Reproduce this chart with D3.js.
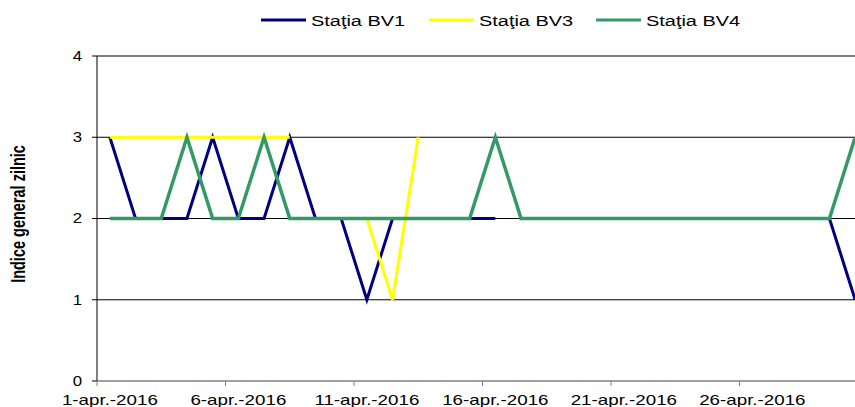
<!DOCTYPE html>
<html><head><meta charset="utf-8">
<script src="https://cdn.jsdelivr.net/npm/d3@7"></script>
<style>body{margin:0;background:#fff}svg{display:block}text{font-family:"Liberation Sans",Arial,sans-serif}</style>
</head><body><svg id="c" width="855" height="407"></svg>
<script>
const days = d3.range(1, 31);
const tickDays = [1, 6, 11, 16, 21, 26];
const tickLabels = ["1-apr.-2016","6-apr.-2016","11-apr.-2016","16-apr.-2016","21-apr.-2016","26-apr.-2016"];
const yTicks = [0, 1, 2, 3, 4];
const seriesNames = ["Staţia BV1", "Staţia BV3", "Staţia BV4"];
const seriesColors = ["#000080", "#FFFF00", "#339966"];
const bv1 = [3,2,2,2,3,2,2,3,2,2,1,2,2,2,2,2,null,2,2,2,2,2,2,2,2,2,2,2,2,1];
const bv3 = [3,3,3,3,3,3,3,3,null,2,2,1,3,null,null,null,null,null,null,null,null,null,null,null,null,null,null,null,null,null];
const bv4 = [2,2,2,3,2,2,3,2,2,2,2,2,2,2,2,3,2,2,2,2,2,2,2,2,2,2,2,2,2,3];
const seriesData = [bv1, bv3, bv4];
const lineWidths = [3, 3, 3.5];

const svg = d3.select("#c");
const x = d3.scaleBand().domain(days).range([97, 97 + 30 * 25.7]).padding(0);
const y = d3.scaleLinear().domain([0, 4]).range([381, 56]);
const cx = d => x(d) + x.bandwidth() / 2;

// gridlines
svg.append("g").selectAll("line").data(yTicks.filter(v => v > 0)).join("line")
  .attr("x1", 97).attr("x2", 855).attr("y1", d => y(d)).attr("y2", d => y(d))
  .attr("stroke", "#000").attr("stroke-width", 1);

// y axis
const ya = svg.append("g");
ya.append("line").attr("x1", 97).attr("x2", 97).attr("y1", y(4)).attr("y2", y(0)).attr("stroke", "#000");
ya.selectAll("line.t").data(yTicks).join("line").attr("class","t")
  .attr("x1", 92).attr("x2", 97).attr("y1", d => y(d)).attr("y2", d => y(d)).attr("stroke", "#000");
ya.selectAll("text").data(yTicks).join("text")
  .attr("transform", d => `translate(82,${y(d)}) scale(1.2,1)`)
  .attr("text-anchor", "end").attr("dy", "0.35em").attr("font-size", 14).attr("fill", "#000")
  .text(d => d);

// x axis
const xa = svg.append("g");
xa.append("line").attr("x1", 97).attr("x2", 855).attr("y1", y(0)).attr("y2", y(0)).attr("stroke", "#808080").attr("stroke-width", 1.5);
xa.selectAll("line.t").data(tickDays).join("line").attr("class","t")
  .attr("x1", d => x(d)).attr("x2", d => x(d)).attr("y1", y(0)).attr("y2", y(0) + 5).attr("stroke", "#808080");
xa.selectAll("text").data(tickDays).join("text")
  .attr("transform", (d, i) => `translate(${cx(d)},405) scale(1.34,1)`)
  .attr("text-anchor", "middle").attr("font-size", 14).attr("fill", "#000")
  .text((d, i) => tickLabels[i]);

// y title
svg.append("text").attr("transform", `translate(25,214) scale(1.35,1) rotate(-90)`)
  .attr("text-anchor", "middle").attr("font-size", 14.5).attr("font-weight", "bold").attr("fill", "#000")
  .text("Indice general zilnic");

// lines
const line = d3.line().defined(d => d[1] != null).x(d => cx(d[0])).y(d => y(d[1]));
seriesData.forEach((s, i) => {
  svg.append("path").datum(days.map((d, j) => [d, s[j]]))
    .attr("d", line).attr("fill", "none").attr("stroke", seriesColors[i])
    .attr("stroke-width", lineWidths[i]).attr("stroke-linejoin", "miter");
});

// legend
const legX = [261, 429, 596];
seriesNames.forEach((n, i) => {
  svg.append("line").attr("x1", legX[i]).attr("x2", legX[i] + 45).attr("y1", 20).attr("y2", 20)
    .attr("stroke", seriesColors[i]).attr("stroke-width", 3);
  svg.append("text").attr("transform", `translate(${legX[i] + 50},25.5) scale(1.33,1)`)
    .attr("font-size", 15).attr("fill", "#000").text(n);
});
</script></body></html>
